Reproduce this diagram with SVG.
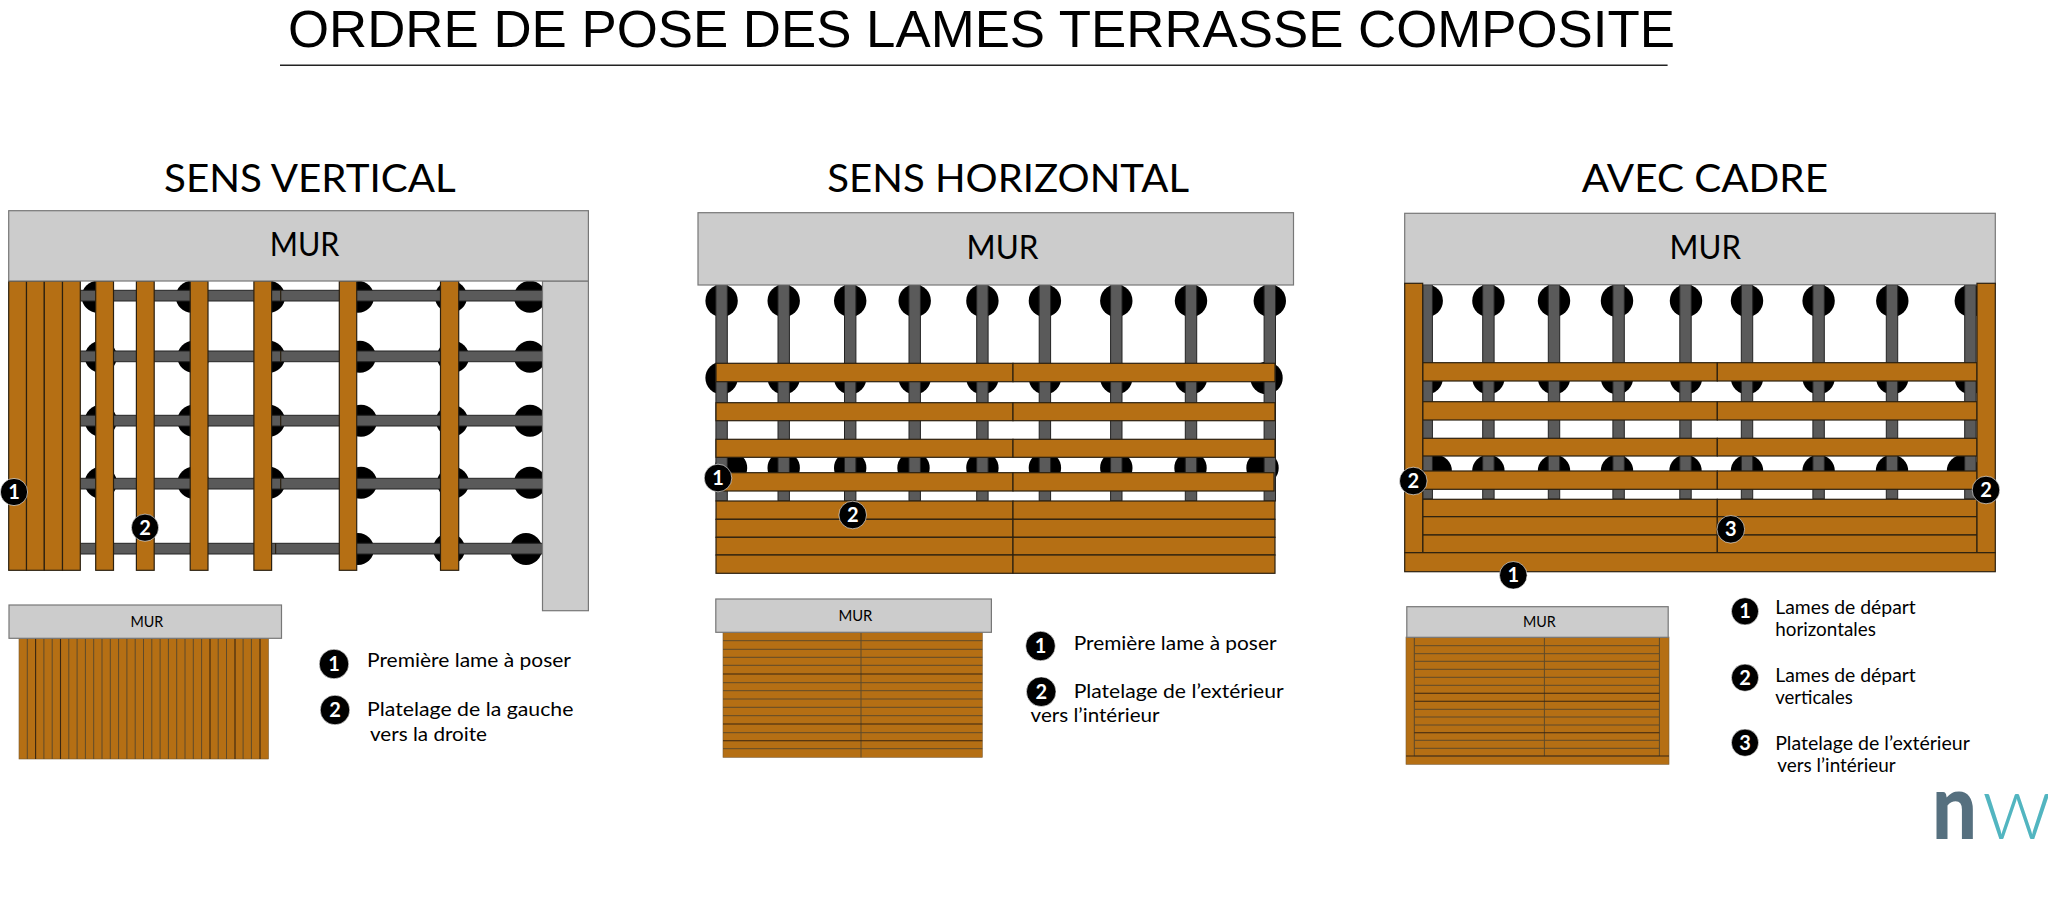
<svg xmlns="http://www.w3.org/2000/svg" width="2048" height="912" viewBox="0 0 2048 912">
<style>
text{font-family:"Lato","Liberation Sans",sans-serif;fill:#000}
.title{font-family:"Liberation Sans",Arial,sans-serif;font-size:52px}
.head{font-size:38.5px}
.mur{font-size:32px}
.smur{font-size:15px}
.lab{font-size:20px}
.lab2{font-size:18.5px}
.wall{fill:#ccc;stroke:#777;stroke-width:1.2}
.p{fill:#b56f14;stroke:#2b2010;stroke-width:1.2}
.j{fill:#5a5a5a;stroke:#222;stroke-width:1}
.d{fill:#000}
.fl{fill:#b56f14;stroke:#7a5a30;stroke-width:.6}
.ln{stroke:#5f4a2a;stroke-width:1}
.dk{stroke:#3a2610;stroke-width:1.1}
.jn{stroke:#2b2010;stroke-width:1.2}
.bc{fill:#000;stroke:#fff;stroke-width:.6}
.bt{font-size:20px;font-weight:700;fill:#fff;text-anchor:middle}
</style>
<rect width="2048" height="912" fill="#fff"/>
<g id="title">
<text class="title" x="288" y="47.3" textLength="1387" lengthAdjust="spacingAndGlyphs">ORDRE DE POSE DES LAMES TERRASSE COMPOSITE</text>
<line x1="280" y1="65.3" x2="1667.6" y2="65.3" stroke="#222" stroke-width="1.6"/>
</g>
<g id="headings">
<text class="head" x="164" y="191.7" textLength="291.7" lengthAdjust="spacingAndGlyphs">SENS VERTICAL</text>
<text class="head" x="827.3" y="191.7" textLength="361.7" lengthAdjust="spacingAndGlyphs">SENS HORIZONTAL</text>
<text class="head" x="1581.7" y="191.7" textLength="246.3" lengthAdjust="spacingAndGlyphs">AVEC CADRE</text>
</g>
<g id="panel-vertical">
<g id="v-dots">
<circle class="d" cx="97.7" cy="296.7" r="16"/><circle class="d" cx="191.8" cy="296.7" r="16"/><circle class="d" cx="269" cy="296.7" r="16"/><circle class="d" cx="358" cy="296.7" r="16"/><circle class="d" cx="451" cy="296.7" r="16"/><circle class="d" cx="530" cy="296.7" r="16"/>
<circle class="d" cx="100.8" cy="356.7" r="16"/><circle class="d" cx="193.4" cy="356.7" r="16"/><circle class="d" cx="269" cy="356.7" r="16"/><circle class="d" cx="359.8" cy="356.7" r="16"/><circle class="d" cx="453" cy="356.7" r="16"/><circle class="d" cx="530" cy="356.7" r="16"/>
<circle class="d" cx="100.8" cy="420.7" r="16"/><circle class="d" cx="193.4" cy="420.7" r="16"/><circle class="d" cx="269" cy="420.7" r="16"/><circle class="d" cx="361" cy="420.7" r="16"/><circle class="d" cx="452" cy="420.7" r="16"/><circle class="d" cx="530" cy="420.7" r="16"/>
<circle class="d" cx="100.8" cy="482.7" r="16"/><circle class="d" cx="193.4" cy="482.7" r="16"/><circle class="d" cx="269" cy="482.7" r="16"/><circle class="d" cx="361" cy="482.7" r="16"/><circle class="d" cx="453" cy="482.7" r="16"/><circle class="d" cx="530" cy="482.7" r="16"/>
<circle class="d" cx="358" cy="549" r="16"/><circle class="d" cx="449" cy="549" r="16"/><circle class="d" cx="526" cy="549" r="16"/>
</g>
<g id="v-joists">
<rect class="j" x="80" y="290.3" width="462.5" height="10.7"/><rect class="j" x="80" y="351" width="462.5" height="10.7"/><rect class="j" x="80" y="415.3" width="462.5" height="10.7"/><rect class="j" x="80" y="478.3" width="462.5" height="10.7"/><rect class="j" x="80" y="543.3" width="462.5" height="10.7"/>
<path d="M280.7 290.3v10.7M280.7 351v10.7M280.7 415.3v10.7M280.7 478.3v10.7M275.6 543.3v10.7" class="jn"/>
</g>
<g id="v-planks">
<rect class="p" x="8.7" y="281" width="17.8" height="289.3"/><rect class="p" x="26.5" y="281" width="17.8" height="289.3"/><rect class="p" x="44.3" y="281" width="18.2" height="289.3"/><rect class="p" x="62.5" y="281" width="17.8" height="289.3"/>
<rect class="p" x="95.7" y="281" width="17.8" height="289.3"/><rect class="p" x="136.4" y="281" width="17.8" height="289.3"/><rect class="p" x="190.2" y="281" width="17.8" height="289.3"/><rect class="p" x="253.9" y="281" width="17.7" height="289.3"/><rect class="p" x="339.3" y="281" width="17.4" height="289.3"/><rect class="p" x="440.5" y="281" width="18.2" height="289.3"/>
</g>
<rect class="wall" x="542.5" y="281" width="45.9" height="329.7"/>
<rect class="wall" x="8.7" y="210.7" width="579.7" height="70.3"/>
<text class="mur" x="269.7" y="256" textLength="69.6" lengthAdjust="spacingAndGlyphs">MUR</text>
<g id="v-badge-1"><circle class="bc" cx="14" cy="492" r="13.6"/><text class="bt" x="14" y="499">1</text></g>
<g id="v-badge-2"><circle class="bc" cx="145" cy="527.7" r="13.6"/><text class="bt" x="145" y="534.7">2</text></g>
</g>
<g id="mini-vertical">
<rect class="fl" x="19" y="638" width="249.5" height="121"/>
<path class="ln" d="M27.3 638v121M43.9 638v121M52.2 638v121M68.8 638v121M77.1 638v121M85.4 638v121M93.7 638v121M102 638v121M110.3 638v121M118.6 638v121M126.9 638v121M135.2 638v121M143.5 638v121M151.8 638v121M160.1 638v121M168.4 638v121M176.7 638v121M185 638v121M193.3 638v121M201.6 638v121M218.2 638v121M226.5 638v121M243.1 638v121M251.4 638v121"/>
<path class="dk" d="M35.6 638v121M60.5 638v121M210 638v121M235 638v121M260 638v121"/>
<rect class="wall" x="9" y="605" width="272.5" height="33.3"/>
<text class="smur" x="130.5" y="626.7" textLength="32.8" lengthAdjust="spacingAndGlyphs">MUR</text>
</g>
<g id="legend-vertical">
<g id="lv-badge-1"><circle class="bc" cx="334" cy="664" r="14.8"/><text class="bt" x="334" y="671">1</text></g>
<g id="lv-badge-2"><circle class="bc" cx="335" cy="710" r="14.8"/><text class="bt" x="335" y="717">2</text></g>
<text class="lab" x="367" y="667.3" textLength="204" lengthAdjust="spacingAndGlyphs">Première lame à poser</text>
<text class="lab" x="367" y="716" textLength="206.4" lengthAdjust="spacingAndGlyphs">Platelage de la gauche</text>
<text class="lab" x="370" y="741" textLength="117" lengthAdjust="spacingAndGlyphs">vers la droite</text>
</g>
<g id="panel-horizontal">
<g id="h-dots">
<circle class="d" cx="721.6" cy="300.7" r="16.2"/><circle class="d" cx="783.7" cy="300.7" r="16.2"/><circle class="d" cx="850.2" cy="300.7" r="16.2"/><circle class="d" cx="914.7" cy="300.7" r="16.2"/><circle class="d" cx="982.4" cy="300.7" r="16.2"/><circle class="d" cx="1044.9" cy="300.7" r="16.2"/><circle class="d" cx="1116.3" cy="300.7" r="16.2"/><circle class="d" cx="1191" cy="300.7" r="16.2"/><circle class="d" cx="1269.8" cy="300.7" r="16.2"/>
<circle class="d" cx="721.6" cy="378" r="16.2"/><circle class="d" cx="783.7" cy="378" r="16.2"/><circle class="d" cx="850.2" cy="378" r="16.2"/><circle class="d" cx="914.7" cy="378" r="16.2"/><circle class="d" cx="982.4" cy="378" r="16.2"/><circle class="d" cx="1044.9" cy="378" r="16.2"/><circle class="d" cx="1116.3" cy="378" r="16.2"/><circle class="d" cx="1191" cy="378" r="16.2"/><circle class="d" cx="1266.5" cy="378" r="16.2"/>
<circle class="d" cx="731" cy="468" r="16.2"/><circle class="d" cx="783.7" cy="468" r="16.2"/><circle class="d" cx="850.2" cy="468" r="16.2"/><circle class="d" cx="913.5" cy="468" r="16.2"/><circle class="d" cx="982.4" cy="468" r="16.2"/><circle class="d" cx="1044.9" cy="468" r="16.2"/><circle class="d" cx="1116.3" cy="468" r="16.2"/><circle class="d" cx="1190.5" cy="468" r="16.2"/><circle class="d" cx="1262.5" cy="468" r="16.2"/>
</g>
<g id="h-joists">
<rect class="j" x="715.9" y="285" width="11.4" height="216"/><rect class="j" x="778" y="285" width="11.4" height="216"/><rect class="j" x="844.5" y="285" width="11.4" height="216"/><rect class="j" x="909" y="285" width="11.4" height="216"/><rect class="j" x="976.7" y="285" width="11.4" height="216"/><rect class="j" x="1039.2" y="285" width="11.4" height="216"/><rect class="j" x="1110.6" y="285" width="11.4" height="216"/><rect class="j" x="1185.3" y="285" width="11.4" height="216"/><rect class="j" x="1264.1" y="285" width="11.4" height="216"/>
</g>
<g id="h-planks">
<rect class="p" x="716" y="363.3" width="297" height="18.4"/><rect class="p" x="1013" y="363.3" width="262" height="18.4"/>
<rect class="p" x="716" y="402.7" width="297" height="18"/><rect class="p" x="1013" y="402.7" width="262" height="18"/>
<rect class="p" x="716" y="439.3" width="297" height="18"/><rect class="p" x="1013" y="439.3" width="262" height="18"/>
<rect class="p" x="716" y="472.7" width="297" height="18.3"/><rect class="p" x="1013" y="472.7" width="261" height="18.3"/>
<rect class="p" x="716" y="501" width="297" height="18.3"/><rect class="p" x="1013" y="501" width="262" height="18.3"/>
<rect class="p" x="716" y="519.3" width="297" height="18"/><rect class="p" x="1013" y="519.3" width="262" height="18"/>
<rect class="p" x="716" y="537.3" width="297" height="17.7"/><rect class="p" x="1013" y="537.3" width="262" height="17.7"/>
<rect class="p" x="716" y="555" width="297" height="18.3"/><rect class="p" x="1013" y="555" width="262" height="18.3"/>
</g>
<rect class="wall" x="698" y="212.7" width="595.5" height="72.3"/>
<text class="mur" x="966.5" y="259.3" textLength="71.9" lengthAdjust="spacingAndGlyphs">MUR</text>
<g id="h-badge-1"><circle class="bc" cx="718" cy="478" r="13.8"/><text class="bt" x="718" y="485">1</text></g>
<g id="h-badge-2"><circle class="bc" cx="852.7" cy="515" r="13.8"/><text class="bt" x="852.7" y="522">2</text></g>
</g>
<g id="mini-horizontal">
<rect class="fl" x="723" y="632" width="259.3" height="125.3"/>
<path class="ln" d="M723 640.7h259.3M723 649.3h259.3M723 657.3h259.3M723 665.3h259.3M723 682.7h259.3M723 690.7h259.3M723 699h259.3M723 707.3h259.3M723 715.7h259.3M723 732.7h259.3M723 748.7h259.3M861 632v125.3"/>
<path class="dk" d="M723 674h259.3M723 724h259.3M723 740.7h259.3"/>
<rect class="wall" x="715.8" y="599" width="275.6" height="33.3"/>
<text class="smur" x="838.4" y="620.7" textLength="34" lengthAdjust="spacingAndGlyphs">MUR</text>
</g>
<g id="legend-horizontal">
<g id="lh-badge-1"><circle class="bc" cx="1040.5" cy="646" r="14.8"/><text class="bt" x="1040.5" y="653">1</text></g>
<g id="lh-badge-2"><circle class="bc" cx="1041.2" cy="691.7" r="14.8"/><text class="bt" x="1041.2" y="698.7">2</text></g>
<text class="lab" x="1073.7" y="650" textLength="202.8" lengthAdjust="spacingAndGlyphs">Première lame à poser</text>
<text class="lab" x="1073.7" y="698.3" textLength="210" lengthAdjust="spacingAndGlyphs">Platelage de l’extérieur</text>
<text class="lab" x="1030.6" y="722.3" textLength="129" lengthAdjust="spacingAndGlyphs">vers l’intérieur</text>
</g>
<g id="panel-cadre">
<g id="c-dots">
<circle class="d" cx="1426.7" cy="300.7" r="16.2"/><circle class="d" cx="1488.4" cy="300.7" r="16.2"/><circle class="d" cx="1554" cy="300.7" r="16.2"/><circle class="d" cx="1617" cy="300.7" r="16.2"/><circle class="d" cx="1686" cy="300.7" r="16.2"/><circle class="d" cx="1747" cy="300.7" r="16.2"/><circle class="d" cx="1818.6" cy="300.7" r="16.2"/><circle class="d" cx="1892.3" cy="300.7" r="16.2"/><circle class="d" cx="1970.8" cy="300.7" r="16.2"/>
<circle class="d" cx="1426.7" cy="378" r="16.2"/><circle class="d" cx="1488.4" cy="378" r="16.2"/><circle class="d" cx="1554" cy="378" r="16.2"/><circle class="d" cx="1617" cy="378" r="16.2"/><circle class="d" cx="1686" cy="378" r="16.2"/><circle class="d" cx="1747" cy="378" r="16.2"/><circle class="d" cx="1818.6" cy="378" r="16.2"/><circle class="d" cx="1892.3" cy="378" r="16.2"/><circle class="d" cx="1970.8" cy="378" r="16.2"/>
<circle class="d" cx="1435.7" cy="471" r="16.2"/><circle class="d" cx="1488.4" cy="471" r="16.2"/><circle class="d" cx="1554" cy="471" r="16.2"/><circle class="d" cx="1617" cy="471" r="16.2"/><circle class="d" cx="1685.5" cy="471" r="16.2"/><circle class="d" cx="1747" cy="471" r="16.2"/><circle class="d" cx="1818.6" cy="471" r="16.2"/><circle class="d" cx="1892" cy="471" r="16.2"/><circle class="d" cx="1963" cy="471" r="16.2"/>
</g>
<g id="c-joists">
<rect class="j" x="1422.7" y="285" width="9.7" height="214"/><rect class="j" x="1482.7" y="285" width="11.4" height="214"/><rect class="j" x="1548.3" y="285" width="11.4" height="214"/><rect class="j" x="1612.9" y="285" width="11.4" height="214"/><rect class="j" x="1679.8" y="285" width="11.4" height="214"/><rect class="j" x="1741.3" y="285" width="11.4" height="214"/><rect class="j" x="1812.9" y="285" width="11.4" height="214"/><rect class="j" x="1886.3" y="285" width="11.4" height="214"/><rect class="j" x="1964.7" y="285" width="11.4" height="214"/>
</g>
<rect class="wall" x="1404.7" y="213.3" width="590.6" height="71.4"/>
<g id="c-planks">
<rect class="p" x="1422.7" y="362.7" width="294.6" height="18.3"/><rect class="p" x="1717.3" y="362.7" width="259.7" height="18.3"/>
<rect class="p" x="1422.7" y="401.7" width="294.6" height="18.3"/><rect class="p" x="1717.3" y="401.7" width="259.7" height="18.3"/>
<rect class="p" x="1422.7" y="438.3" width="294.6" height="17.7"/><rect class="p" x="1717.3" y="438.3" width="259.7" height="17.7"/>
<rect class="p" x="1422.7" y="471" width="294.6" height="18.3"/><rect class="p" x="1717.3" y="471" width="259.7" height="18.3"/>
<rect class="p" x="1422.7" y="499.3" width="294.6" height="17.4"/><rect class="p" x="1717.3" y="499.3" width="259.7" height="17.4"/>
<rect class="p" x="1422.7" y="516.7" width="294.6" height="18.3"/><rect class="p" x="1717.3" y="516.7" width="259.7" height="18.3"/>
<rect class="p" x="1422.7" y="535" width="294.6" height="17.7"/><rect class="p" x="1717.3" y="535" width="259.7" height="17.7"/>
<rect class="p" x="1404.7" y="283.3" width="18" height="269.4"/><rect class="p" x="1977" y="283.3" width="18.3" height="269.4"/>
<rect class="p" x="1404.7" y="552.7" width="590.6" height="19"/>
</g>
<text class="mur" x="1669.6" y="259.3" textLength="71.4" lengthAdjust="spacingAndGlyphs">MUR</text>
<g id="c-badge-1"><circle class="bc" cx="1513.3" cy="575.3" r="13.8"/><text class="bt" x="1513.3" y="582.3">1</text></g>
<g id="c-badge-2a"><circle class="bc" cx="1413.3" cy="481" r="13.8"/><text class="bt" x="1413.3" y="488">2</text></g>
<g id="c-badge-2b"><circle class="bc" cx="1986" cy="490" r="13.8"/><text class="bt" x="1986" y="497">2</text></g>
<g id="c-badge-3"><circle class="bc" cx="1730.8" cy="529.3" r="13.8"/><text class="bt" x="1730.8" y="536.3">3</text></g>
</g>
<g id="mini-cadre">
<rect class="fl" x="1406" y="637" width="263" height="127.3"/>
<rect class="fl" x="1414.3" y="637" width="245.1" height="119"/>
<path class="ln" d="M1414.3 645.7h245.1M1414.3 653.7h245.1M1414.3 661.3h245.1M1414.3 669.3h245.1M1414.3 677.3h245.1M1414.3 685.3h245.1M1414.3 709.3h245.1M1414.3 717h245.1M1414.3 725h245.1M1414.3 740.3h245.1M1414.3 748.3h245.1M1544.4 637v119M1414.3 637v119M1659.4 637v119"/>
<path class="dk" d="M1414.3 693.3h245.1M1414.3 701.3h245.1M1414.3 732.7h245.1M1406 756h263"/>
<rect class="wall" x="1406.8" y="606.7" width="261.4" height="30.6"/>
<text class="smur" x="1523" y="626.7" textLength="32.8" lengthAdjust="spacingAndGlyphs">MUR</text>
</g>
<g id="legend-cadre">
<g id="lc-badge-1"><circle class="bc" cx="1745" cy="611.3" r="13.6"/><text class="bt" x="1745" y="618.3">1</text></g>
<g id="lc-badge-2"><circle class="bc" cx="1745" cy="677.7" r="13.6"/><text class="bt" x="1745" y="684.7">2</text></g>
<g id="lc-badge-3"><circle class="bc" cx="1745" cy="742.7" r="13.6"/><text class="bt" x="1745" y="749.7">3</text></g>
<text class="lab2" x="1775.2" y="614" textLength="140.6" lengthAdjust="spacingAndGlyphs">Lames de départ</text>
<text class="lab2" x="1775.2" y="635.7" textLength="100.7" lengthAdjust="spacingAndGlyphs">horizontales</text>
<text class="lab2" x="1775.2" y="682" textLength="140.6" lengthAdjust="spacingAndGlyphs">Lames de départ</text>
<text class="lab2" x="1775.2" y="704.3" textLength="77.6" lengthAdjust="spacingAndGlyphs">verticales</text>
<text class="lab2" x="1775.2" y="750" textLength="194.7" lengthAdjust="spacingAndGlyphs">Platelage de l’extérieur</text>
<text class="lab2" x="1777.3" y="772" textLength="118.3" lengthAdjust="spacingAndGlyphs">vers l’intérieur</text>
</g>
<g id="logo">
<text x="1932" y="839" font-size="91" font-weight="900" style="fill:#56707f" textLength="45" lengthAdjust="spacingAndGlyphs">n</text>
<text x="1982" y="839" font-size="91" font-weight="300" style="fill:#52b5c0">w</text>
</g>
</svg>
